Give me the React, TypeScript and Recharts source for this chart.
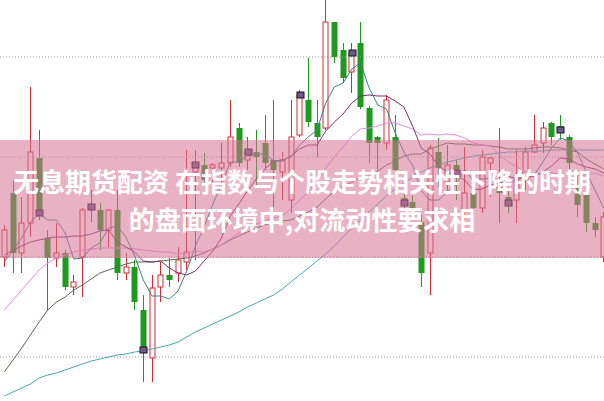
import { ComposedChart, Bar, Line, XAxis, YAxis, ReferenceLine } from 'recharts';

// OHLC per session (price units), left to right
const opens = [13.00, 13.64, 13.04, 13.34, 13.99, 13.19, 12.99, 13.04, 12.70, 13.00, 13.48, 13.47, 13.27, 13.47, 12.84, 12.90, 12.47, 11.99, 12.70, 12.82, 12.84, 12.95, 13.85, 13.92, 13.89, 13.89, 13.94, 14.29, 13.97, 14.05, 14.14, 13.97, 13.85, 13.57, 14.22, 14.57, 14.34, 14.29, 15.35, 15.07, 14.85, 15.14, 14.49, 14.20, 14.14, 14.20, 13.59, 13.55, 13.35, 13.04, 14.05, 13.75, 13.92, 13.47, 13.64, 13.49, 13.94, 13.70, 13.60, 13.57, 13.77, 14.05, 14.14, 14.34, 14.31, 14.20, 13.70, 13.62, 13.34, 13.00];
const highs = [13.32, 13.77, 13.60, 14.70, 14.27, 13.27, 13.34, 13.07, 12.82, 13.49, 13.67, 13.54, 13.48, 13.67, 13.04, 12.97, 12.62, 12.82, 12.95, 12.99, 13.10, 14.07, 14.07, 14.04, 13.94, 14.14, 14.57, 14.34, 14.20, 14.27, 14.42, 14.57, 14.05, 14.57, 14.67, 14.99, 14.57, 15.57, 15.35, 15.14, 15.14, 15.35, 14.51, 14.21, 14.62, 14.42, 13.67, 13.62, 13.42, 14.12, 14.19, 14.12, 13.97, 14.10, 13.67, 14.07, 14.00, 14.29, 13.67, 14.07, 14.10, 14.42, 14.35, 14.35, 14.42, 14.22, 13.82, 13.64, 13.40, 13.45];
const lows = [12.90, 12.84, 12.84, 13.20, 13.37, 12.47, 12.90, 12.67, 12.62, 12.60, 13.35, 13.07, 13.10, 12.77, 12.77, 12.47, 11.75, 11.75, 12.55, 12.70, 12.75, 12.87, 12.97, 13.70, 13.70, 13.70, 13.90, 13.90, 13.87, 13.70, 13.87, 13.44, 13.57, 13.44, 14.20, 14.30, 14.00, 14.27, 14.94, 14.74, 14.64, 14.48, 13.94, 13.87, 14.07, 13.70, 13.47, 13.42, 12.70, 12.62, 13.70, 13.64, 13.57, 13.37, 13.44, 13.44, 13.60, 13.34, 13.44, 13.34, 13.67, 14.04, 14.04, 14.12, 14.17, 13.84, 13.40, 13.25, 13.20, 12.95];
const closes = [13.27, 13.04, 13.34, 14.05, 13.44, 12.99, 13.04, 12.70, 12.75, 13.47, 13.50, 13.27, 13.47, 12.84, 12.90, 12.55, 12.07, 12.69, 12.82, 12.77, 12.97, 13.05, 13.92, 13.77, 13.92, 13.94, 14.20, 13.94, 14.05, 14.00, 13.94, 13.87, 13.97, 14.20, 14.62, 14.35, 14.20, 15.35, 15.00, 14.79, 15.04, 14.50, 14.14, 14.14, 14.57, 13.87, 13.54, 13.49, 12.84, 14.09, 13.89, 13.92, 13.84, 13.64, 13.49, 14.00, 13.99, 13.64, 13.54, 13.77, 14.05, 14.12, 14.29, 14.20, 14.27, 13.94, 13.52, 13.34, 13.27, 13.40];

// moving averages
const ma5 = [12.95, 13.07, 13.19, 13.35, 13.43, 13.37, 13.37, 13.24, 12.98, 12.99, 13.09, 13.14, 13.29, 13.31, 13.20, 13.01, 12.77, 12.61, 12.61, 12.58, 12.66, 12.86, 13.11, 13.30, 13.53, 13.72, 13.95, 13.95, 14.01, 14.03, 14.03, 13.96, 13.97, 14.00, 14.12, 14.20, 14.27, 14.54, 14.70, 14.74, 14.88, 14.94, 14.69, 14.52, 14.48, 14.24, 14.05, 13.92, 13.66, 13.57, 13.57, 13.65, 13.72, 13.88, 13.76, 13.78, 13.79, 13.75, 13.73, 13.79, 13.80, 13.82, 13.95, 14.09, 14.19, 14.16, 14.04, 13.85, 13.67, 13.49];
const ma10 = [13.02, 13.07, 13.11, 13.15, 13.17, 13.19, 13.20, 13.20, 13.21, 13.21, 13.23, 13.26, 13.27, 13.15, 13.10, 13.05, 12.96, 12.95, 12.96, 12.89, 12.84, 12.82, 12.86, 12.96, 13.06, 13.19, 13.41, 13.53, 13.66, 13.78, 13.88, 13.96, 13.96, 14.01, 14.08, 14.12, 14.12, 14.26, 14.35, 14.43, 14.54, 14.61, 14.62, 14.61, 14.61, 14.56, 14.50, 14.31, 14.09, 14.03, 13.91, 13.85, 13.82, 13.77, 13.67, 13.68, 13.72, 13.74, 13.81, 13.78, 13.79, 13.81, 13.85, 13.91, 13.99, 13.98, 13.93, 13.90, 13.88, 13.84];
const ma20 = [12.47, 12.57, 12.67, 12.77, 12.87, 12.94, 12.99, 13.02, 13.05, 13.07, 13.08, 13.09, 13.09, 13.09, 13.09, 13.08, 13.07, 13.06, 13.05, 13.05, 13.03, 13.04, 13.06, 13.05, 13.08, 13.12, 13.18, 13.24, 13.31, 13.33, 13.36, 13.39, 13.41, 13.48, 13.57, 13.65, 13.76, 13.89, 14.00, 14.10, 14.21, 14.28, 14.29, 14.31, 14.34, 14.34, 14.31, 14.28, 14.22, 14.23, 14.22, 14.23, 14.22, 14.19, 14.14, 14.12, 14.11, 14.02, 13.95, 13.90, 13.85, 13.83, 13.83, 13.84, 13.83, 13.83, 13.82, 13.82, 13.84, 13.81];
const ma30 = [11.85, 11.97, 12.09, 12.22, 12.35, 12.47, 12.55, 12.60, 12.67, 12.72, 12.78, 12.84, 12.87, 12.90, 12.93, 12.95, 12.95, 12.95, 12.96, 12.97, 12.98, 12.99, 13.01, 13.04, 13.08, 13.12, 13.17, 13.21, 13.25, 13.29, 13.32, 13.35, 13.36, 13.37, 13.41, 13.45, 13.50, 13.58, 13.66, 13.70, 13.75, 13.80, 13.81, 13.86, 13.92, 13.96, 14.01, 14.03, 14.03, 14.08, 14.11, 14.14, 14.13, 14.13, 14.12, 14.12, 14.11, 14.10, 14.08, 14.08, 14.08, 14.09, 14.10, 14.10, 14.09, 14.07, 14.05, 13.98, 13.93, 13.88];
const ma60 = [11.61, 11.65, 11.69, 11.73, 11.79, 11.82, 11.84, 11.87, 11.90, 11.93, 11.96, 11.98, 12.00, 12.02, 12.03, 12.05, 12.06, 12.08, 12.10, 12.12, 12.15, 12.20, 12.25, 12.29, 12.33, 12.37, 12.41, 12.45, 12.50, 12.54, 12.58, 12.62, 12.68, 12.75, 12.82, 12.89, 12.96, 13.03, 13.11, 13.20, 13.29, 13.37, 13.45, 13.53, 13.61, 13.68, 13.74, 13.80, 13.85, 13.89, 13.92, 13.95, 13.97, 13.99, 14.01, 14.02, 14.03, 14.04, 14.05, 14.05, 14.06, 14.06, 14.06, 14.07, 14.07, 14.07, 14.07, 14.07, 14.07, 14.07];

// sessions carrying the small square marker
const markedSessions = [4, 10, 16, 22, 28, 34, 40, 46, 52, 58, 64];
const gridPrices = [12, 13, 14, 15];

const titleLines = ['无息期货配资 在指数与个股走势相关性下降的时期', '的盘面环境中,对流动性要求相'];

const RED = '#d42a34';
const GREEN = '#1e9a1e';

const data = opens.map((o, i) => ({
  i,
  open: o,
  high: highs[i],
  low: lows[i],
  close: closes[i],
  ma5: ma5[i],
  ma10: ma10[i],
  ma20: ma20[i],
  ma30: ma30[i],
  ma60: ma60[i],
  mark: markedSessions.includes(i) ? closes[i] : null,
}));

const Candle = (props: any) => {
  const { x, width, payload } = props;
  let { y, height } = props;
  if (height < 0) {
    y = y + height;
    height = -height;
  }
  const { open, close, high, low } = payload;
  const span = high - low || 1;
  const toY = (v: number) => y + ((high - v) / span) * height;
  const cx = Math.round(x + width / 2) + 0.5;
  const top = toY(Math.max(open, close));
  const bot = toY(Math.min(open, close));
  const bodyH = Math.max(1, bot - top);
  if (close >= open) {
    return (
      <g>
        <line x1={cx} x2={cx} y1={y} y2={top} stroke={RED} strokeWidth={1} />
        <line x1={cx} x2={cx} y1={top + bodyH} y2={y + height} stroke={RED} strokeWidth={1} />
        <rect x={cx - 2.5} y={top} width={5} height={bodyH} fill="#fff" stroke={RED} strokeWidth={1} />
      </g>
    );
  }
  return (
    <g>
      <line x1={cx} x2={cx} y1={y} y2={y + height} stroke={GREEN} strokeWidth={1} />
      <rect x={cx - 3} y={top} width={6} height={bodyH} fill={GREEN} />
    </g>
  );
};

const Marker = (props: any) => {
  const { cx, cy, value, index } = props;
  if (value == null || cx == null || cy == null) return <g key={`m-${index}`} />;
  return (
    <g key={`m-${index}`}>
      <rect x={Math.round(cx) - 3} y={cy - 3} width={7} height={6} fill="#6c5a8e" stroke="#151520" strokeWidth={1} />
    </g>
  );
};

const maLines = [
  { key: 'ma60', color: '#45a6b2' },
  { key: 'ma30', color: '#56694c' },
  { key: 'ma20', color: '#e48de0' },
  { key: 'ma10', color: '#7a2e6a' },
  { key: 'ma5', color: '#3d7f8e' },
];

export default function App() {
  return (
    <div style={{ position: 'absolute', left: 0, top: 0, width: 604, height: 401, overflow: 'hidden', background: '#fff' }}>
      <ComposedChart width={608} height={401} data={data} margin={{ top: 0, right: 0, bottom: 0, left: 0 }}>
        <XAxis dataKey="i" hide />
        <YAxis hide domain={[11.56, 15.57]} allowDataOverflow />
        {gridPrices.map((p) => (
          <ReferenceLine key={p} y={p} stroke="#9a9a9a" strokeDasharray="1 2" />
        ))}
        <Bar dataKey={(d: any) => [d.low, d.high]} barSize={6} shape={Candle} isAnimationActive={false} />
        {maLines.map((m) => (
          <Line
            key={m.key}
            type="linear"
            dataKey={m.key}
            stroke={m.color}
            strokeWidth={1}
            dot={false}
            activeDot={false}
            isAnimationActive={false}
          />
        ))}
        <Line dataKey="mark" stroke="none" dot={Marker} activeDot={false} isAnimationActive={false} />
      </ComposedChart>
      <div
        style={{
          position: 'absolute',
          left: 0,
          top: 140,
          width: 604,
          height: 118,
          background: 'rgba(215,115,148,0.55)',
        }}
      />
      {titleLines.map((t, k) => (
        <div
          key={k}
          style={{
            position: 'absolute',
            left: 0,
            width: 604,
            top: k === 0 ? 165 : 203,
            lineHeight: '32px',
            textAlign: 'center',
            color: '#fff',
            fontFamily: '"Noto Sans CJK SC", "Noto Sans", sans-serif',
            fontWeight: 700,
            fontSize: 26,
            whiteSpace: 'nowrap',
          }}
        >
          {t}
        </div>
      ))}
    </div>
  );
}
